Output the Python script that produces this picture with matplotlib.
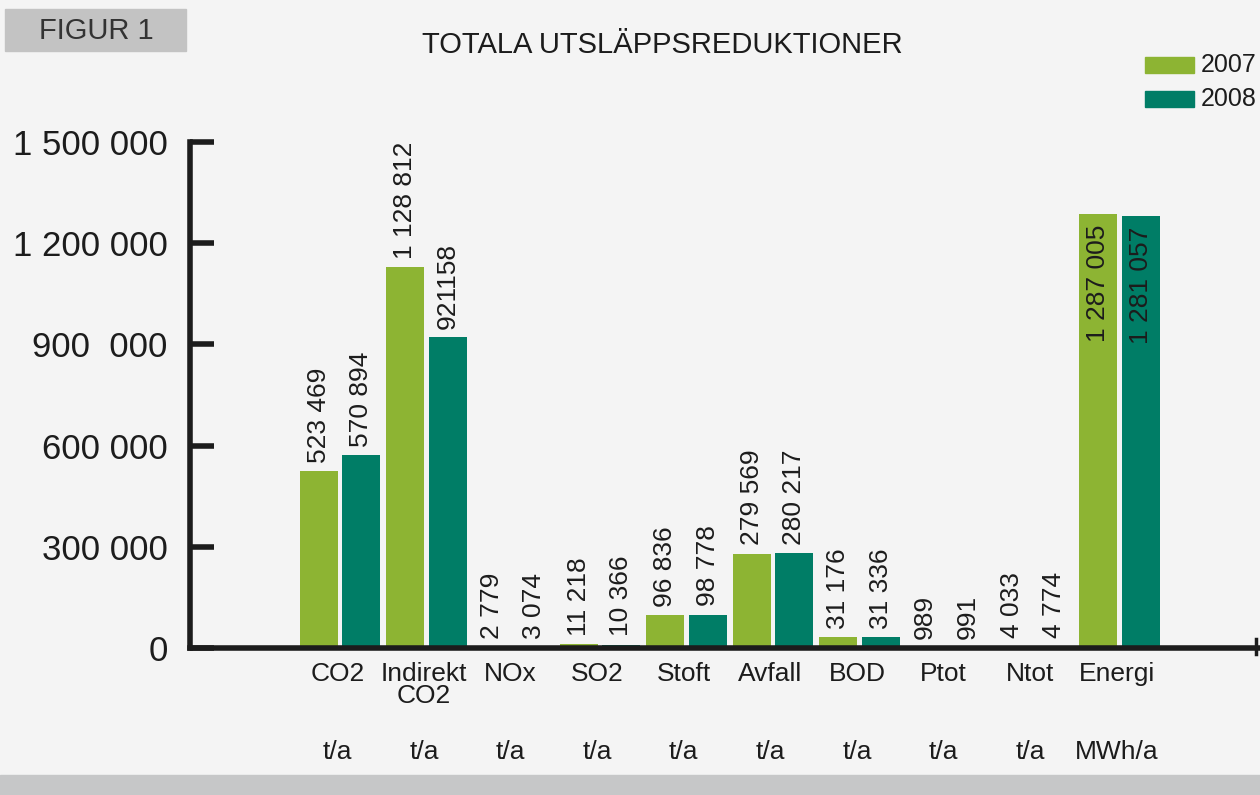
import numpy as np
import matplotlib.pyplot as plt
from matplotlib.patches import Rectangle

# Data
categories = ['CO2', 'Indirekt\nCO2', 'NOx', 'SO2', 'Stoft', 'Avfall', 'BOD', 'Ptot', 'Ntot', 'Energi']
units = ['t/a', 't/a', 't/a', 't/a', 't/a', 't/a', 't/a', 't/a', 't/a', 'MWh/a']
values_2007 = [523469, 1128812, 2779, 11218, 96836, 279569, 31176, 989, 4033, 1287005]
values_2008 = [570894, 921158, 3074, 10366, 98778, 280217, 31336, 991, 4774, 1281057]
labels_2007 = ['523 469', '1 128 812', '2 779', '11 218', '96 836', '279 569', '31 176', '989', '4 033', '1 287 005']
labels_2008 = ['570 894', '921158', '3 074', '10 366', '98 778', '280 217', '31 336', '991', '4 774', '1 281 057']
ytick_values = [0, 300000, 600000, 900000, 1200000, 1500000]
ytick_labels = ['0', '300 000', '600 000', '900  000', '1 200 000', '1 500 000']

# Style
GREEN = '#8db433'
TEAL = '#007d66'
BG = '#f4f4f4'
DARK = '#1c1c1c'
font = ['Liberation Sans', 'DejaVu Sans']
plt.rcParams['font.family'] = font

fig = plt.figure(figsize=(12.6, 7.95), dpi=100, facecolor=BG)
ax = fig.add_axes([0.1508, 0.1849, 0.8492, 0.6365])
ax.set_facecolor(BG)

x = np.arange(len(categories))
width = 0.44
off = 0.245

ax.bar(x - off, values_2007, width, color=GREEN, zorder=2)
ax.bar(x + off, values_2008, width, color=TEAL, zorder=2)

# value labels (Energi sits inside its bars)
for xs, vals, labs in [(x - off, values_2007, labels_2007), (x + off, values_2008, labels_2008)]:
    for xi, v, lab in zip(xs, vals, labs):
        if v > 1250000:
            ax.annotate(lab, (xi, v), xytext=(0, -8), textcoords='offset points',
                        rotation=90, ha='center', va='top', fontsize=19,
                        color=DARK, zorder=3)
        else:
            ax.annotate(lab, (xi, v), xytext=(0, 6), textcoords='offset points',
                        rotation=90, ha='center', va='bottom', fontsize=19,
                        color=DARK, zorder=3)

# axes
ax.set_xlim(-1.732, 10.624)
ax.set_ylim(0, 1500000)
ax.set_yticks(ytick_values)
ax.set_yticklabels(ytick_labels, fontsize=25, color=DARK)
ax.tick_params(axis='y', direction='in', length=17, width=4, color=DARK, pad=16)
ax.set_xticks([])
for s in ['top', 'right']:
    ax.spines[s].set_visible(False)
for s in ['left', 'bottom']:
    ax.spines[s].set_linewidth(4)
    ax.spines[s].set_color(DARK)
    ax.spines[s].set_capstyle('projecting')
ax.plot([0.996, 0.996], [-0.012, 0.018], transform=ax.transAxes, color=DARK,
        lw=2.5, clip_on=False)

# category and unit labels
for xi, cat, unit in zip(x, categories, units):
    ax.text(xi - 0.03, -0.028, cat, transform=ax.get_xaxis_transform(), ha='center', va='top',
            fontsize=19, color=DARK, linespacing=0.88)
    ax.text(xi - 0.03, -0.205, unit, transform=ax.get_xaxis_transform(), ha='center', va='center',
            fontsize=19, color=DARK)

# title and figure tag
fig.text(0.526, 0.943, 'TOTALA UTSLÄPPSREDUKTIONER', ha='center', va='center',
         fontsize=21, color=DARK)
fig.patches.append(Rectangle((5 / 1260, 1 - 51 / 795), 181 / 1260, 42 / 795,
                             transform=fig.transFigure, color='#c3c3c3', zorder=0))
fig.text(96 / 1260, 1 - 31 / 795, 'FIGUR 1', ha='center', va='center',
         fontsize=21, color='#333333')

# bottom band
fig.patches.append(Rectangle((0, 0), 1, 20 / 795, transform=fig.transFigure,
                             color='#c6c7c8', zorder=0))

# legend at the top right
fig.patches.append(Rectangle((1145 / 1260, 1 - 73 / 795), 49 / 1260, 16 / 795,
                             transform=fig.transFigure, color=GREEN))
fig.patches.append(Rectangle((1145 / 1260, 1 - 107 / 795), 49 / 1260, 16 / 795,
                             transform=fig.transFigure, color=TEAL))
fig.text(1201 / 1260, 1 - 65 / 795, '2007', ha='left', va='center', fontsize=18, color=DARK)
fig.text(1201 / 1260, 1 - 99 / 795, '2008', ha='left', va='center', fontsize=18, color=DARK)

fig.savefig('out.png', dpi=100, facecolor=BG)
